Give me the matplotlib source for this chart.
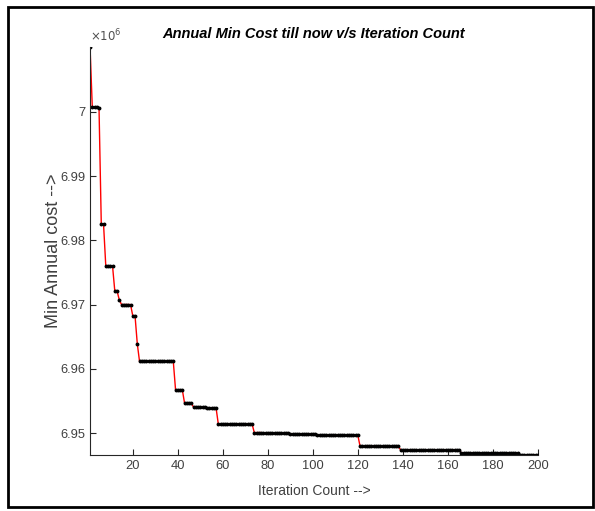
import numpy as np
import matplotlib
matplotlib.use("Agg")
import matplotlib.pyplot as plt
from matplotlib.patches import Rectangle
from matplotlib.ticker import FuncFormatter

plt.rcParams['font.family'] = ['Liberation Sans', 'DejaVu Sans']

# best annual cost so far (in units of 1e6), as runs of equal value
run_values = [7.01016, 7.00082, 7.00058, 6.98258, 6.97605, 6.97216, 6.97076,
              6.97003, 6.96827, 6.96392, 6.96117, 6.95677, 6.95470, 6.95405,
              6.95395, 6.95143, 6.95010, 6.95000, 6.94988, 6.94968, 6.94795,
              6.94743, 6.94692, 6.94661]
run_lengths = [1, 3, 1, 2, 4, 2, 1, 5, 2, 1, 16, 4, 4, 6, 5, 16, 4, 12, 12, 19,
               18, 27, 26, 9]
x_ticks = [20, 40, 60, 80, 100, 120, 140, 160, 180, 200]
y_ticks = [6.95, 6.96, 6.97, 6.98, 6.99, 7.00]

cost = np.repeat(run_values, run_lengths)
iters = np.arange(1, len(cost) + 1)

fig = plt.figure(figsize=(5.95, 5.11), dpi=100)
ax = fig.add_axes([0.1513, 0.1096, 0.7527, 0.7990])

ax.plot(iters, cost, color='red', lw=1.0)
ax.plot(iters, cost, 'k.', markersize=3.6)

ax.set_xlim(1, 200)
ax.set_ylim(cost.min(), cost.max())
ax.set_xticks(x_ticks)
ax.set_yticks(y_ticks)
ax.yaxis.set_major_formatter(FuncFormatter(lambda v, p: '%g' % round(v, 2)))

gray = '#262626'
for s in ['top', 'right']:
    ax.spines[s].set_visible(False)
for s in ['left', 'bottom']:
    ax.spines[s].set_color(gray)
    ax.spines[s].set_linewidth(0.8)
ax.tick_params(direction='in', length=4, width=0.8, colors=gray,
               labelsize=9.3, labelcolor='#404040')

ax.set_title('Annual Min Cost till now v/s Iteration Count', fontsize=10.5,
             fontweight='bold', fontstyle='italic', pad=6)
ax.set_xlabel('Iteration Count -->', fontsize=10, color='#404040', labelpad=9)
ax.set_ylabel('Min Annual cost -->', fontsize=13, color='#404040')
ax.yaxis.set_label_coords(-0.062, 0.5)
ax.text(0.0, 1.005, r'$\times10^6$', transform=ax.transAxes, fontsize=8.5,
        color='#505050', ha='left', va='bottom')

fig.patches.append(Rectangle((8 / 595, 4 / 511), 585 / 595, 500 / 511,
                             transform=fig.transFigure, fill=False,
                             edgecolor='black', lw=2))

fig.savefig('out.png', dpi=100)
